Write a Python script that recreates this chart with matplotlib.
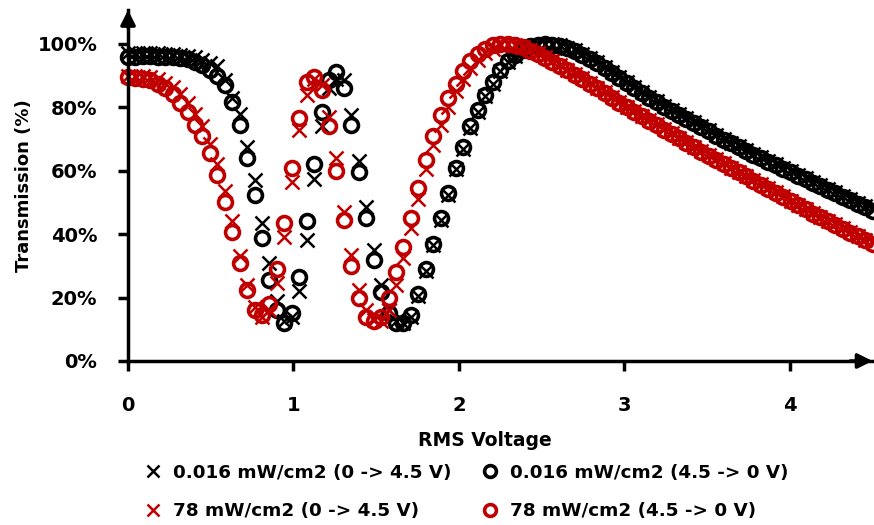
import matplotlib
matplotlib.use("Agg")
import matplotlib.pyplot as plt

# RMS voltage steps (V)
voltage = [0.0, 0.045, 0.09, 0.135, 0.18, 0.225, 0.27, 0.315, 0.36, 0.405,
           0.45, 0.495, 0.54, 0.585, 0.63, 0.675, 0.72, 0.765, 0.81, 0.855,
           0.9, 0.945, 0.99, 1.035, 1.08, 1.125, 1.17, 1.215, 1.26, 1.305,
           1.35, 1.395, 1.44, 1.485, 1.53, 1.575, 1.62, 1.665, 1.71, 1.755,
           1.8, 1.845, 1.89, 1.935, 1.98, 2.025, 2.07, 2.115, 2.16, 2.205,
           2.25, 2.295, 2.34, 2.385, 2.43, 2.475, 2.52, 2.565, 2.61, 2.655,
           2.7, 2.745, 2.79, 2.835, 2.88, 2.925, 2.97, 3.015, 3.06, 3.105,
           3.15, 3.195, 3.24, 3.285, 3.33, 3.375, 3.42, 3.465, 3.51, 3.555,
           3.6, 3.645, 3.69, 3.735, 3.78, 3.825, 3.87, 3.915, 3.96, 4.005,
           4.05, 4.095, 4.14, 4.185, 4.23, 4.275, 4.32, 4.365, 4.41, 4.455,
           4.5]

# transmission (%) - 0.016 mW/cm2, sweep up
low_up = [97, 97.2, 97.1, 97, 97, 96.9, 96.8, 96.6, 96.3, 95.8,
          95, 94, 93, 88.5, 83, 78, 67.5, 57, 43.5, 31,
          19, 12.5, 14, 22, 38, 57.5, 74, 86, 89, 88.5,
          77.5, 63, 48.5, 35, 24, 16, 12.5, 12, 14, 20.5,
          28.5, 36.5, 44.5, 52.5, 60.5, 67, 73.5, 78.5, 83.5, 87.5,
          91.5, 94.2, 96.3, 97.8, 99, 99.7, 100, 99.9, 99.5, 98.8,
          98, 96.9, 95.6, 94.2, 92.7, 91.1, 89.5, 87.9, 86.3, 84.8,
          83.3, 81.9, 80.5, 79.2, 77.9, 76.6, 75.3, 74, 72.7, 71.4,
          70.1, 68.9, 67.7, 66.5, 65.3, 64.2, 63.1, 62, 60.9, 59.8,
          58.7, 57.6, 56.5, 55.4, 54.3, 53.2, 52.1, 51, 49.9, 48.8,
          47.7]

# 0.016 mW/cm2, sweep down
low_down = [96, 96, 96.1, 96.1, 96, 96, 95.9, 95.6, 95.1, 94.2,
            93.3, 91.8, 90, 87, 81.8, 74.4, 64, 52.4, 38.7, 25.5,
            16, 12, 15, 26.5, 44, 62, 78.5, 88.5, 91, 86,
            74.5, 59.5, 45, 32, 21.8, 15, 12, 12, 14.5, 21,
            29, 37, 45, 53, 61, 67.5, 74, 79, 84, 88,
            91.8, 94.5, 96.5, 98, 99.2, 99.8, 100, 99.8, 99.3, 98.6,
            97.7, 96.6, 95.3, 93.9, 92.4, 90.8, 89.2, 87.6, 86, 84.5,
            83, 81.6, 80.2, 78.9, 77.6, 76.3, 75, 73.7, 72.4, 71.1,
            69.8, 68.6, 67.4, 66.2, 65, 63.9, 62.8, 61.7, 60.6, 59.5,
            58.4, 57.3, 56.2, 55.1, 54, 52.9, 51.8, 50.7, 49.6, 48.5,
            47.4]

# 78 mW/cm2, sweep up
high_up = [90, 90, 89.8, 89.5, 88.8, 87.8, 86.5, 84.3, 81.5, 78,
           74, 68.5, 62, 53.5, 44, 33, 24, 17, 14, 16,
           24.5, 39, 56.5, 73, 84, 89, 87, 77, 64, 47,
           33.5, 22.5, 16, 13, 12.5, 16, 24, 32.5, 42, 51,
           60.5, 68, 74.5, 80, 85, 89, 92.5, 95, 97, 98.5,
           99.5, 100, 99.8, 99.1, 98.1, 97, 95.8, 94.5, 93.2, 91.9,
           90.5, 89.1, 87.7, 86.2, 84.7, 83.2, 81.7, 80.2, 78.8, 77.4,
           76, 74.6, 73.2, 71.8, 70.4, 69, 67.6, 66.2, 64.9, 63.6,
           62.3, 61, 59.7, 58.4, 57.1, 55.8, 54.5, 53.2, 51.9, 50.6,
           49.3, 48, 46.7, 45.5, 44.3, 43.1, 41.9, 40.7, 39.5, 38.3,
           37.1]

# 78 mW/cm2, sweep down
high_down = [89.5, 89.3, 89, 88.5, 87.5, 86, 84.2, 81.5, 78.5, 74.5,
             71, 65.5, 58.5, 50, 40.7, 31, 22.4, 16, 14.5, 18,
             29, 43.5, 61, 76.5, 88, 89.6, 85.5, 74, 60, 44.5,
             30, 20, 14, 12.5, 14, 20, 28, 36, 45, 54.5,
             63.5, 71, 77.5, 83, 87.5, 91.5, 94.5, 96.8, 98.4, 99.5,
             100, 100, 99.6, 98.9, 97.9, 96.8, 95.6, 94.3, 93, 91.7,
             90.3, 88.9, 87.5, 86, 84.5, 83, 81.5, 80, 78.6, 77.2,
             75.8, 74.4, 73, 71.6, 70.2, 68.8, 67.4, 66, 64.7, 63.4,
             62.1, 60.8, 59.5, 58.2, 56.9, 55.6, 54.3, 53, 51.7, 50.4,
             49.1, 47.8, 46.5, 45.3, 44.1, 42.9, 41.7, 40.5, 39.3, 38.1,
             36.9]

labels = ["0.016 mW/cm2 (0 -> 4.5 V)", "0.016 mW/cm2 (4.5 -> 0 V)",
          "78 mW/cm2 (0 -> 4.5 V)", "78 mW/cm2 (4.5 -> 0 V)"]
yticks = [0, 20, 40, 60, 80, 100]
xticks = [0, 1, 2, 3, 4]

red = '#C00000'
plt.rcParams['font.family'] = ['DejaVu Sans']
plt.rcParams['font.weight'] = 'bold'

fig = plt.figure(figsize=(8.74, 5.25), dpi=100)
ax = fig.add_axes([0.1465, 0.3124, 0.8518, 0.6686])

hx1, = ax.plot(voltage, low_up, ls='none', marker='x', ms=10, mew=1.8, color='k', clip_on=False)
ho1, = ax.plot(voltage, low_down, ls='none', marker='o', ms=10, mew=2.6, mfc='none', mec='k', clip_on=False)
hx2, = ax.plot(voltage, high_up, ls='none', marker='x', ms=10, mew=1.8, color=red, clip_on=False)
ho2, = ax.plot(voltage, high_down, ls='none', marker='o', ms=10, mew=2.6, mfc='none', mec=red, clip_on=False)

ax.set_xlim(0, 4.5)
ax.set_ylim(0, 110.7)
ax.set_xticks(xticks)
ax.set_xticklabels([str(t) for t in xticks])
ax.set_yticks(yticks)
ax.set_yticklabels([f'{t}%' for t in yticks])
ax.tick_params(axis='both', labelsize=14, width=2.5, length=7, direction='out')
ax.tick_params(axis='y', pad=15)
ax.tick_params(axis='x', pad=18)

for s in ['top', 'right']:
    ax.spines[s].set_visible(False)
for s in ['left', 'bottom']:
    ax.spines[s].set_linewidth(2.5)

# arrow heads on the axes
ax.annotate('', xy=(1.0, 0), xytext=(0.97, 0), xycoords='axes fraction',
            arrowprops=dict(arrowstyle='-|>', mutation_scale=22, color='k', lw=2.5,
                            shrinkA=0, shrinkB=0), annotation_clip=False)
ax.annotate('', xy=(0, 1.0), xytext=(0, 0.95), xycoords='axes fraction',
            arrowprops=dict(arrowstyle='-|>', mutation_scale=22, color='k', lw=2.5,
                            shrinkA=0, shrinkB=0), annotation_clip=False)

ax.set_ylabel('Transmission (%)', fontsize=13, fontweight='bold', labelpad=3)
fig.text(0.555, 0.161, 'RMS Voltage', ha='center', va='center', fontsize=13.5, fontweight='bold')

leg = fig.legend([hx1, hx2, ho1, ho2], [labels[0], labels[2], labels[1], labels[3]],
                 ncol=2, loc='center', bbox_to_anchor=(0.533, 0.063), frameon=False,
                 fontsize=13.2, handlelength=1.0, handletextpad=0.6, columnspacing=1.6,
                 labelspacing=1.13, markerscale=0.85)

plt.savefig('out.png', dpi=100)
